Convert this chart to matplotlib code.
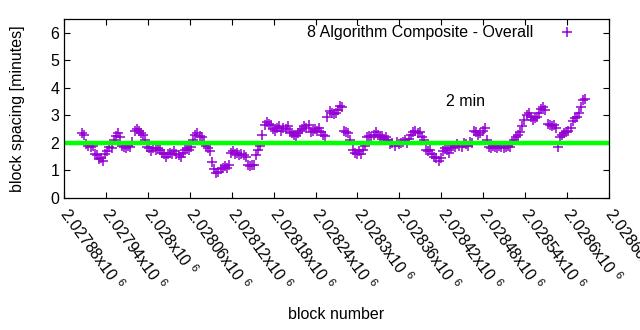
import numpy as np
import matplotlib
matplotlib.use('Agg')
import matplotlib.pyplot as plt

plt.rcParams['font.family'] = ['Liberation Sans', 'DejaVu Sans']
plt.rcParams['mathtext.default'] = 'regular'

# block spacing (minutes), one reading every 3 blocks
first_block = 2027906
block_step = 3
spacing = [
    2.35, 2.30, 1.95, 1.90, 1.85, 1.90, 1.60, 1.55, 1.40, 1.45,
    1.35, 1.60, 1.70, 1.85, 1.80, 2.10, 2.25, 2.35, 2.20, 1.90,
    1.85, 1.80, 1.90, 1.85, 2.05, 2.45, 2.50, 2.45, 2.35, 2.30,
    2.10, 1.85, 1.80, 1.70, 1.80, 1.75, 1.80, 1.75, 1.65, 1.60,
    1.50, 1.60, 1.65, 1.60, 1.70, 1.60, 1.55, 1.50, 1.65, 1.75,
    1.80, 1.75, 1.85, 2.10, 2.30, 2.35, 2.25, 2.20, 2.05, 1.90,
    1.80, 1.70, 1.30, 1.05, 0.90, 0.95, 1.05, 1.10, 1.15, 1.10,
    1.20, 1.65, 1.70, 1.60, 1.65, 1.55, 1.60, 1.55, 1.50, 1.20,
    1.15, 1.20, 1.20, 1.55, 1.75, 1.90, 2.30, 2.65, 2.75, 2.70,
    2.65, 2.50, 2.45, 2.55, 2.60, 2.45, 2.55, 2.50, 2.60, 2.40,
    2.35, 2.30, 2.25, 2.35, 2.45, 2.50, 2.60, 2.55, 2.65, 2.40,
    2.45, 2.50, 2.45, 2.55, 2.40, 2.30, 2.25, 2.95, 3.15, 3.10,
    3.05, 3.10, 3.20, 3.35, 3.30, 2.45, 2.40, 2.35, 2.10, 1.75,
    1.65, 1.60, 1.70, 1.60, 1.75, 1.90, 2.20, 2.25, 2.20, 2.30,
    2.40, 2.30, 2.20, 2.25, 2.15, 2.20, 2.10, 1.95, 2.00, 1.90,
    2.05, 1.95, 2.00, 2.05, 2.10, 2.00, 2.15, 2.30, 2.40, 2.45,
    2.35, 2.40, 2.20, 2.10, 1.75, 1.70, 1.75, 1.60, 1.50, 1.45,
    1.35, 1.45, 1.70, 1.80, 1.75, 1.65, 1.80, 1.90, 1.85, 1.95,
    1.90, 1.85, 2.00, 1.95, 1.90, 2.05, 2.00, 2.45, 2.40, 2.30,
    2.35, 2.45, 2.55, 2.10, 1.85, 1.80, 1.90, 1.85, 1.80, 1.90,
    1.85, 1.80, 1.85, 1.90, 1.85, 2.00, 2.10, 2.20, 2.30, 2.40,
    2.60, 2.85, 3.00, 3.10, 2.95, 2.85, 2.90, 2.95, 3.10, 3.25,
    3.30, 3.20, 2.70, 2.65, 2.60, 2.65, 2.55, 1.85, 2.20, 2.30,
    2.35, 2.40, 2.45, 2.55, 2.80, 2.90, 2.95, 3.10, 3.30, 3.55,
    3.60,
]
blocks = first_block + block_step * np.arange(len(spacing))

target = 2
xticks = [2027880, 2027940, 2028000, 2028060, 2028120, 2028180, 2028240,
          2028300, 2028360, 2028420, 2028480, 2028540, 2028600, 2028660]
xtick_labels = ['2.02788', '2.02794', '2.028', '2.02806', '2.02812', '2.02818',
                '2.02824', '2.0283', '2.02836', '2.02842', '2.02848', '2.02854',
                '2.0286', '2.02866']
yticks = [0, 1, 2, 3, 4, 5, 6]

fs = 11.5
fig = plt.figure(figsize=(6.4, 3.3), dpi=100)
ax = fig.add_axes([0.1, 0.4, 0.8516, 0.5424])

ax.plot(blocks, spacing, linestyle='none', marker='+', markersize=6.5,
        markeredgewidth=1.1, color='#9400d3',
        label='8 Algorithm Composite - Overall')
ax.axhline(target, color='#00ff00', linewidth=3.2)
ax.text(2028454, 3.52, '2 min', ha='center', va='center', fontsize=fs)

ax.set_xlim(2027880, 2028660)
ax.set_ylim(0, 6.5)
ax.set_yticks(yticks)
ax.set_xticks(xticks)
ax.set_xticklabels([s + r'x10 $^{6}$' for s in xtick_labels], rotation=-54,
                   ha='left', va='center', rotation_mode='anchor')
ax.tick_params(direction='in', length=4, width=0.8, top=True, right=True,
               labelsize=fs)
ax.tick_params(axis='x', pad=9)
for s in ax.spines.values():
    s.set_linewidth(0.9)

ax.set_xlabel('block number', fontsize=fs)
ax.xaxis.set_label_coords(0.5, -0.61)
ax.set_ylabel('block spacing [minutes]', fontsize=fs)
ax.yaxis.set_label_coords(-0.072, 0.5)

ax.legend(loc='upper right', bbox_to_anchor=(0.964, 1.0), borderaxespad=0,
          frameon=False, markerfirst=False, handletextpad=1.13, fontsize=fs)

fig.savefig('out.png', dpi=100)
